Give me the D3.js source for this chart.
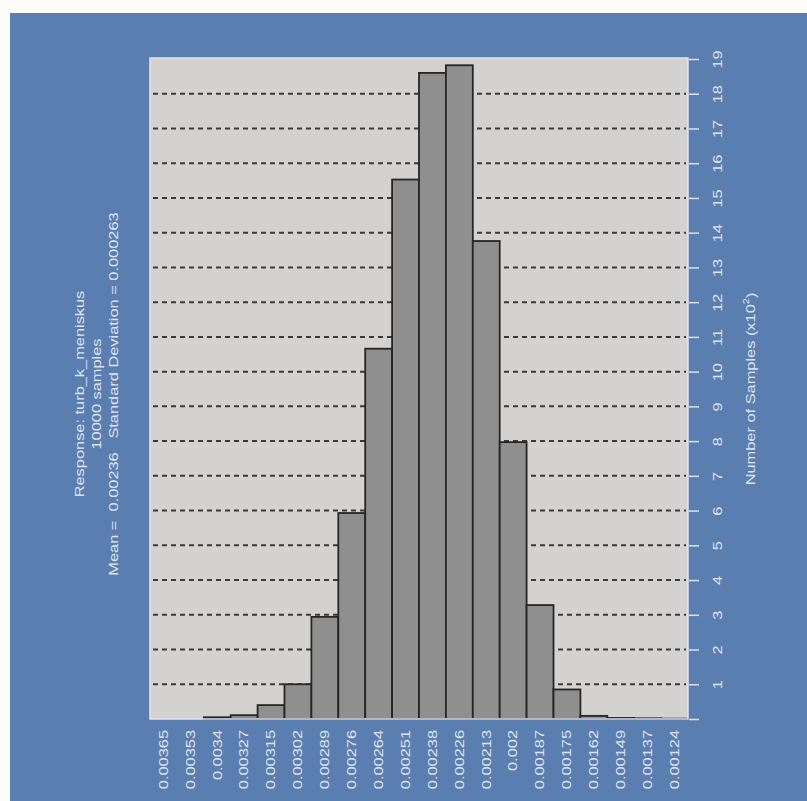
<!DOCTYPE html>
<html>
<head>
<meta charset="utf-8">
<script src="https://cdn.jsdelivr.net/npm/d3@7/dist/d3.min.js"></script>
<style>
  html, body { margin: 0; padding: 0; background: #fdfcf9; }
  svg { display: block; font-family: "Liberation Sans", Arial, sans-serif; }
</style>
</head>
<body>
<svg id="chart" width="807" height="801"></svg>
<script>
// Histogram bins (response value at bin centre) and counts in hundreds of samples
const binLabels = ["0.00365", "0.00353", "0.0034", "0.00327", "0.00315", "0.00302", "0.00289",
  "0.00276", "0.00264", "0.00251", "0.00238", "0.00226", "0.00213", "0.002", "0.00187",
  "0.00175", "0.00162", "0.00149", "0.00137", "0.00124"];
const counts = [0, 0, 0.05, 0.11, 0.40, 1.00, 2.94, 5.93, 10.66, 15.53, 18.60, 18.82,
  13.76, 7.97, 3.28, 0.85, 0.09, 0.03, 0.02, 0.01];
const countTicks = d3.range(0, 20);
const titleLines = ["Response: turb_k_meniskus", "10000 samples",
  "Mean =  0.00236   Standard Deviation = 0.000263"];

const svg = d3.select("#chart");
const stretch = 1.3;        // text is drawn elongated along its reading direction
const fontSize = 12.6;
const textColor = "#dfe2ee";
const plot = { left: 150, right: 688, top: 58, bottom: 719 };

// panel background
svg.append("rect").attr("x", 10).attr("y", 13).attr("width", 797).attr("height", 788)
  .attr("fill", "#5b7eb1");

const x = d3.scaleBand().domain(binLabels).range([plot.left, plot.right]).padding(0);
const y = d3.scaleLinear().domain([0, 19]).range([plot.bottom, 59]);

// plotting area
svg.append("rect")
  .attr("x", plot.left).attr("y", plot.top)
  .attr("width", plot.right - plot.left).attr("height", plot.bottom - plot.top)
  .attr("fill", "#d3d2d1");

// dashed reference lines
svg.append("g").selectAll("line")
  .data(countTicks.filter(d => d > 0 && d < 19))
  .join("line")
  .attr("x1", plot.left + 3).attr("x2", plot.right - 2)
  .attr("y1", d => y(d)).attr("y2", d => y(d))
  .attr("stroke", "#3a3a3a").attr("stroke-width", 2)
  .attr("stroke-dasharray", "5,4");

// bars
svg.append("g").selectAll("rect")
  .data(counts.map((c, i) => ({ label: binLabels[i], count: c })))
  .join("rect")
  .attr("x", d => x(d.label))
  .attr("width", x.bandwidth())
  .attr("y", d => y(d.count))
  .attr("height", d => y(0) - y(d.count))
  .attr("fill", d => d.count > 0 ? "#8f8f8f" : "none")
  .attr("stroke", d => d.count > 0 ? "#262626" : "none")
  .attr("stroke-width", 1.8);

// light frame round the plotting area
svg.append("rect")
  .attr("x", plot.left).attr("y", plot.top)
  .attr("width", plot.right - plot.left).attr("height", plot.bottom - plot.top)
  .attr("fill", "none").attr("stroke", "#e4e5ee").attr("stroke-width", 1.5);

// count axis on the right
const yAxis = svg.append("g")
  .attr("transform", `translate(${plot.right + 1},0)`)
  .call(d3.axisRight(y).tickValues(countTicks).tickSize(10).tickFormat(d3.format("d")));
yAxis.select(".domain").remove();
yAxis.selectAll(".tick line").attr("stroke", textColor).attr("stroke-width", 1.5);
yAxis.selectAll(".tick text")
  .attr("x", null).attr("dy", null)
  .attr("fill", textColor)
  .attr("font-size", fontSize)
  .attr("text-anchor", "middle")
  .attr("dominant-baseline", "central")
  .attr("transform", `translate(29,0) rotate(-90) scale(${stretch},1)`)
  .text(d => d === 0 ? "" : d);

// bin axis along the bottom
const xAxis = svg.append("g")
  .attr("transform", `translate(0,${plot.bottom})`)
  .call(d3.axisBottom(x).tickSize(0));
xAxis.select(".domain").remove();
xAxis.selectAll(".tick text")
  .attr("y", null).attr("dy", null)
  .attr("fill", textColor)
  .attr("font-size", fontSize)
  .attr("text-anchor", "end")
  .attr("dominant-baseline", "central")
  .attr("transform", `translate(0,11) rotate(-90) scale(${stretch},1)`);

// axis title
const axisTitle = svg.append("text")
  .attr("transform", `translate(751,389) rotate(-90) scale(${stretch},1)`)
  .attr("text-anchor", "middle")
  .attr("dominant-baseline", "central")
  .attr("fill", textColor)
  .attr("font-size", fontSize);
axisTitle.append("tspan").text("Number of Samples (x10");
axisTitle.append("tspan").attr("font-size", 8.5).attr("dy", -5).text("2");
axisTitle.append("tspan").attr("dy", 5).text(")");

// chart title block
svg.append("g").selectAll("text")
  .data(titleLines)
  .join("text")
  .attr("transform", (d, i) => `translate(${80 + i * 17},394) rotate(-90) scale(${stretch},1)`)
  .attr("text-anchor", "middle")
  .attr("dominant-baseline", "central")
  .attr("fill", textColor)
  .attr("font-size", fontSize)
  .attr("xml:space", "preserve")
  .text(d => d);
</script>
</body>
</html>
